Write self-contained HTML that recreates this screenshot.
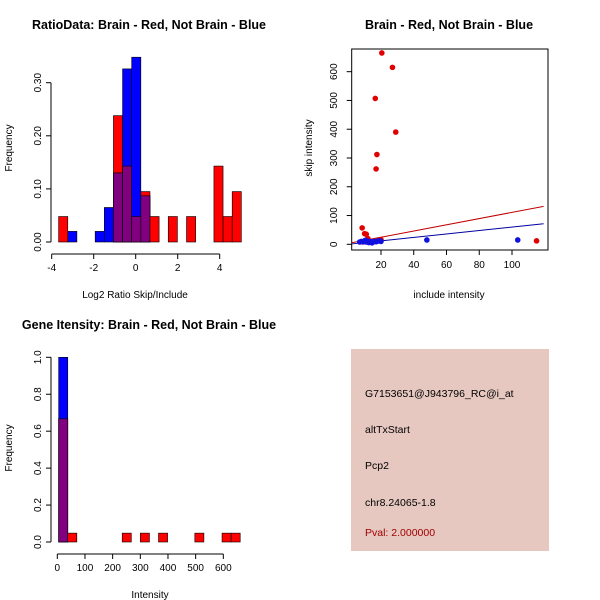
<!DOCTYPE html>
<html><head><meta charset="utf-8"><style>
body{margin:0;background:#fff}
svg{display:block;font-family:"Liberation Sans",sans-serif}
</style></head><body>
<svg id="c" width="600" height="600" xmlns="http://www.w3.org/2000/svg">
<rect width="600" height="600" fill="#fff"/>
<text x="149" y="29" font-size="12.5" font-weight="bold" text-anchor="middle">RatioData: Brain - Red, Not Brain - Blue</text>
<text x="135" y="298" font-size="10" text-anchor="middle">Log2 Ratio Skip/Include</text>
<text x="12" y="148" font-size="10" text-anchor="middle" transform="rotate(-90 12 148)">Frequency</text>
<text x="449" y="29" font-size="12.5" font-weight="bold" text-anchor="middle">Brain - Red, Not Brain - Blue</text>
<text x="449" y="298" font-size="10" text-anchor="middle">include intensity</text>
<text x="312" y="148" font-size="10" text-anchor="middle" transform="rotate(-90 312 148)">skip intensity</text>
<text x="149" y="329" font-size="12.5" font-weight="bold" text-anchor="middle">Gene Itensity: Brain - Red, Not Brain - Blue</text>
<text x="150" y="598" font-size="10" text-anchor="middle">Intensity</text>
<text x="12" y="448" font-size="10" text-anchor="middle" transform="rotate(-90 12 448)">Frequency</text>
<g>
<rect x="351" y="349" width="198" height="202" fill="#e6c8c0"/>
<text x="365" y="397" font-size="10.5">G7153651@J943796_RC@i_at</text>
<text x="365" y="433" font-size="10.5">altTxStart</text>
<text x="365" y="469" font-size="10.5">Pcp2</text>
<text x="365" y="506" font-size="10.5">chr8.24065-1.8</text>
<text x="365" y="536" font-size="10.5" fill="#a00000">Pval: 2.000000</text>
</g>
</svg>
<script>
// Histogram 1 data
const h1Start=-3.67, h1Width=0.435;
const h1Red=[0.048,0,0,0,0,0,0.238,0.143,0.048,0.095,0.048,0,0.048,0,0.048,0,0,0.143,0.048,0.095];
const h1Blue=[0,0.02,0,0,0.02,0.065,0.13,0.326,0.348,0.087,0,0,0,0,0,0,0,0,0,0];
const h1XTicks=[-4,-2,0,2,4];
const h1YTicks=[0,0.1,0.2,0.3];
const h1YLabels=["0.00","0.10","0.20","0.30"];
// Scatter data
const redX=[20.5,27,16.5,29,17.5,17,8.5,10,11,12,115,9,10,12,13,14,15,16,18,19,20];
const redY=[665,615,507,390,312,262,57,37,35,20,12,8,10,12,9,10,8,11,12,14,16];
const blueX=[48,103.5,7,8,9,10,11,12,13,14,15,16,17,18,19,20,10.5,12.5,14.5];
const blueY=[15,15,8,10,9,12,8,11,7,9,8,10,9,11,12,10,14,6,5];
const sXTicks=[20,40,60,80,100];
const sYTicks=[0,100,200,300,400,500,600];
const redFit=[3,1.08], blueFit=[0,0.6];
// Histogram 3 data
const h3Start=5, h3Width=32.8;
const h3Red=[0.667,0.048,0,0,0,0,0,0.048,0,0.048,0,0.048,0,0,0,0.048,0,0,0.048,0.048];
const h3Blue=[1.0,0,0,0,0,0,0,0,0,0,0,0,0,0,0,0,0,0,0,0];
const h3XTicks=[0,100,200,300,400,500,600];
const h3YTicks=[0,0.2,0.4,0.6,0.8,1.0];
const h3YLabels=["0.0","0.2","0.4","0.6","0.8","1.0"];

const svg=document.getElementById('c');
const NS="http://www.w3.org/2000/svg";
function el(tag,attrs,parent){const e=document.createElementNS(NS,tag);for(const k in attrs)e.setAttribute(k,attrs[k]);(parent||svg).appendChild(e);return e;}

function hist(prefix,start,width,red,blue,xs,ys,xTicks,yTicks,yLabels,yAxisX,xAxisY){
  const g=el('g',{});
  
  
  for(let i=0;i<red.length;i++){
    const x0=xs(start+i*width),x1=xs(start+(i+1)*width);
    const r=red[i],b=blue[i],m=Math.min(r,b);
    if(r>0){const e=el('rect',{x:x0,y:ys(r),width:x1-x0,height:ys(0)-ys(r),fill:'#ff0000',stroke:'#000','stroke-width':0.6},g);
      
      }
    if(b>0){const e=el('rect',{x:x0,y:ys(b),width:x1-x0,height:ys(0)-ys(b),fill:'#0000ff',stroke:'#000','stroke-width':0.6},g);
      
      }
    if(m>0){const e=el('rect',{x:x0,y:ys(m),width:x1-x0,height:ys(0)-ys(m),fill:'#800080',stroke:'#000','stroke-width':0.6},g);
      
      }
  }
  el('line',{x1:xs(xTicks[0]),x2:xs(xTicks[xTicks.length-1]),y1:xAxisY,y2:xAxisY,stroke:'#000'},g);
  xTicks.forEach(t=>{el('line',{x1:xs(t),x2:xs(t),y1:xAxisY,y2:xAxisY+5,stroke:'#000'},g);
    const tx=el('text',{x:xs(t),y:xAxisY+17,'font-size':10,'text-anchor':'middle'},g);tx.textContent=t;});
  el('line',{x1:yAxisX,x2:yAxisX,y1:ys(yTicks[0]),y2:ys(yTicks[yTicks.length-1]),stroke:'#000'},g);
  yTicks.forEach((t,i)=>{const y=ys(t);el('line',{x1:yAxisX-5,x2:yAxisX,y1:y,y2:y,stroke:'#000'},g);
    const tx=el('text',{x:yAxisX-10,y:y,'font-size':10,'text-anchor':'middle',transform:`rotate(-90 ${yAxisX-10} ${y})`},g);tx.textContent=yLabels[i];});
}
hist('ratio-hist',h1Start,h1Width,h1Red,h1Blue,v=>51.7+(v+4)*21,v=>242-v*531,h1XTicks,h1YTicks,h1YLabels,51,254);
hist('intensity-hist',h3Start,h3Width,h3Red,h3Blue,v=>57.3+v*0.2767,v=>542-v*184.7,h3XTicks,h3YTicks,h3YLabels,51,554);

const sx=v=>381+(v-20)*1.6375, sy=v=>244.3-v*0.2877;
const sg=el('g',{});


el('rect',{x:351.7,y:49,width:196.3,height:201,fill:'none',stroke:'#000'},sg);
const cp=el('clipPath',{id:'sc'});el('rect',{x:351.7,y:49,width:196.3,height:201},cp);
[[redFit,'#c00000','red-fit-line'],[blueFit,'#0000a0','blue-fit-line']].forEach(([f,c,n])=>{
  const xa=2.1,xb=119.3;
  const l=el('line',{x1:sx(xa),y1:sy(f[0]+f[1]*xa),x2:sx(xb),y2:sy(f[0]+f[1]*xb),stroke:c,'clip-path':'url(#sc)'},sg);
  
  
});
redX.forEach((x,i)=>{const p=el('circle',{cx:sx(x),cy:sy(redY[i]),r:2.8,fill:'#e00000'},sg);
  
  });
blueX.forEach((x,i)=>{const p=el('circle',{cx:sx(x),cy:sy(blueY[i]),r:2.8,fill:'#1010e0'},sg);
  
  });
el('line',{x1:sx(20),x2:sx(100),y1:250,y2:250,stroke:'#000'},sg);
sXTicks.forEach(t=>{el('line',{x1:sx(t),x2:sx(t),y1:250,y2:255,stroke:'#000'},sg);
  const tx=el('text',{x:sx(t),y:268,'font-size':10,'text-anchor':'middle'},sg);tx.textContent=t;});
sYTicks.forEach(t=>{const y=sy(t);el('line',{x1:346.7,x2:351.7,y1:y,y2:y,stroke:'#000'},sg);
  const tx=el('text',{x:337,y:y,'font-size':10,'text-anchor':'middle',transform:`rotate(-90 337 ${y})`},sg);tx.textContent=t;});
</script>
</body></html>
